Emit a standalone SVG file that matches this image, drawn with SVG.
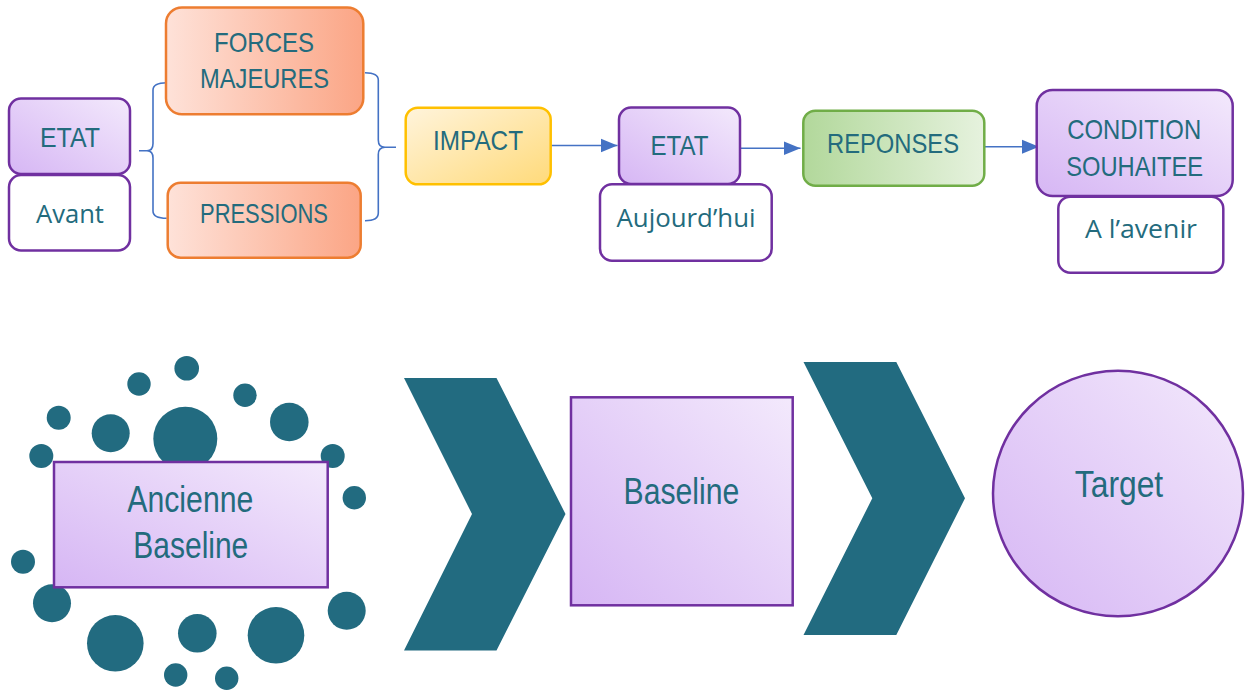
<svg xmlns="http://www.w3.org/2000/svg" width="1247" height="691" viewBox="0 0 1247 691">
<defs>
<linearGradient id="gPurple" x1="0" y1="1" x2="1" y2="0">
<stop offset="0" stop-color="#D6B6F4"/><stop offset="1" stop-color="#F3E9FC"/>
</linearGradient>
<linearGradient id="gOrange" x1="0" y1="0" x2="1" y2="0">
<stop offset="0" stop-color="#FEE2D9"/><stop offset="1" stop-color="#FBA585"/>
</linearGradient>
<linearGradient id="gYellow" x1="0" y1="0" x2="1" y2="1">
<stop offset="0" stop-color="#FFF4DC"/><stop offset="1" stop-color="#FFDA7A"/>
</linearGradient>
<linearGradient id="gGreen" x1="0" y1="0" x2="1" y2="0">
<stop offset="0" stop-color="#B2D89B"/><stop offset="1" stop-color="#E6F2DE"/>
</linearGradient>
<marker id="arr" markerUnits="userSpaceOnUse" markerWidth="18" markerHeight="16" refX="17" refY="8" orient="auto">
<path d="M0,1 L17,8 L0,15 Z" fill="#4472C4"/>
</marker>
<style>
.t{font-family:"Liberation Sans",Arial,sans-serif;fill:#236B7D;text-anchor:middle}
.c{font-family:"Open Sans","Noto Sans",sans-serif;fill:#236B7D;text-anchor:middle}
.pu{fill:url(#gPurple);stroke:#7030A0;stroke-width:2.5}
.wh{fill:#FFFFFF;stroke:#7030A0;stroke-width:2.5}
.or{fill:url(#gOrange);stroke:#ED7D31;stroke-width:2.5}
.ye{fill:url(#gYellow);stroke:#FFC000;stroke-width:2.5}
.gr{fill:url(#gGreen);stroke:#70AD47;stroke-width:2.5}
.ln{fill:none;stroke:#4472C4;stroke-width:1.6}
.dot{fill:#226B80}
</style>
</defs>
<rect width="1247" height="691" fill="#FFFFFF"/>

<g id="connectors">
<path class="ln" d="M139,150.7 H149 M166.7,82.7 Q153,82.7 153,90 L153,143.5 Q153,150.7 147,150.7 Q153,150.7 153,158 L153,211 Q153,218.3 166.7,218.3"/>
<path class="ln" d="M365,72.7 Q378.3,72.7 378.3,80 L378.3,140 Q378.3,147.3 385,147.3 Q378.3,147.3 378.3,154.6 L378.3,213 Q378.3,220.7 365,220.7 M384,147.3 H396"/>
<line class="ln" x1="551" y1="145.5" x2="617.5" y2="145.5" marker-end="url(#arr)"/>
<line class="ln" x1="740.5" y1="148.3" x2="800.5" y2="148.3" marker-end="url(#arr)"/>
<line class="ln" x1="985" y1="146.7" x2="1039" y2="146.7" marker-end="url(#arr)"/>
</g>

<g id="etat1">
<rect class="pu" x="9" y="98.5" width="121" height="75.5" rx="12"/>
<text class="t" x="70" y="146.7" font-size="28" textLength="60" lengthAdjust="spacingAndGlyphs">ETAT</text>
</g>
<g id="avant">
<rect class="wh" x="9" y="175" width="121" height="75.5" rx="12"/>
<text class="c" x="70" y="222.7" font-size="25" textLength="68" lengthAdjust="spacingAndGlyphs">Avant</text>
</g>
<g id="forces">
<rect class="or" x="166" y="7.5" width="197.3" height="106.8" rx="16"/>
<text class="t" x="264" y="51.7" font-size="28" textLength="100" lengthAdjust="spacingAndGlyphs">FORCES</text>
<text class="t" x="264.5" y="87.7" font-size="28" textLength="129" lengthAdjust="spacingAndGlyphs">MAJEURES</text>
</g>
<g id="pressions">
<rect class="or" x="167.7" y="182.7" width="193" height="75" rx="13"/>
<text class="t" x="264" y="223.3" font-size="28" textLength="128" lengthAdjust="spacingAndGlyphs">PRESSIONS</text>
</g>
<g id="impact">
<rect class="ye" x="405.7" y="107.7" width="145" height="76.6" rx="12"/>
<text class="t" x="478" y="150" font-size="28" textLength="90" lengthAdjust="spacingAndGlyphs">IMPACT</text>
</g>
<g id="etat2">
<rect class="pu" x="619" y="107.5" width="121" height="76.5" rx="12"/>
<text class="t" x="679.5" y="155" font-size="28" textLength="58" lengthAdjust="spacingAndGlyphs">ETAT</text>
</g>
<g id="aujourdhui">
<rect class="wh" x="600" y="184.3" width="171.7" height="76.4" rx="12"/>
<text class="c" x="686" y="226.7" font-size="25" textLength="139" lengthAdjust="spacingAndGlyphs">Aujourd’hui</text>
</g>
<g id="reponses">
<rect class="gr" x="803.3" y="110.7" width="181" height="75" rx="12"/>
<text class="t" x="893" y="152.7" font-size="28" textLength="132" lengthAdjust="spacingAndGlyphs">REPONSES</text>
</g>
<g id="condition">
<rect class="pu" x="1036.7" y="90" width="196" height="106" rx="16"/>
<text class="t" x="1134.2" y="139.3" font-size="28" textLength="134" lengthAdjust="spacingAndGlyphs">CONDITION</text>
<text class="t" x="1134.7" y="175.7" font-size="28" textLength="137" lengthAdjust="spacingAndGlyphs">SOUHAITEE</text>
</g>
<g id="avenir">
<rect class="wh" x="1058.3" y="196.7" width="165" height="76" rx="12"/>
<text class="c" x="1141" y="238.3" font-size="25" textLength="112" lengthAdjust="spacingAndGlyphs">A l’avenir</text>
</g>

<g id="dots">
<circle class="dot" cx="186.7" cy="368.3" r="12.3"/>
<circle class="dot" cx="139" cy="384" r="11.7"/>
<circle class="dot" cx="245" cy="395.3" r="11.7"/>
<circle class="dot" cx="58.7" cy="417.7" r="12"/>
<circle class="dot" cx="110.7" cy="433.3" r="19"/>
<circle class="dot" cx="185.3" cy="438.7" r="32"/>
<circle class="dot" cx="289.3" cy="422" r="19.3"/>
<circle class="dot" cx="41.3" cy="456" r="12"/>
<circle class="dot" cx="332.7" cy="456" r="12"/>
<circle class="dot" cx="354.3" cy="497.7" r="11.7"/>
<circle class="dot" cx="23" cy="561.7" r="12"/>
<circle class="dot" cx="52" cy="603.3" r="19"/>
<circle class="dot" cx="115.3" cy="643.3" r="28.3"/>
<circle class="dot" cx="197.3" cy="633.3" r="19.3"/>
<circle class="dot" cx="276" cy="635.3" r="28.3"/>
<circle class="dot" cx="346.7" cy="610.7" r="19"/>
<circle class="dot" cx="175.7" cy="675" r="11.7"/>
<circle class="dot" cx="226.7" cy="678.3" r="11.7"/>
</g>
<g id="ancienne">
<rect class="pu" x="54" y="462" width="273.7" height="125.3"/>
<text class="t" x="190.3" y="512" font-size="36" textLength="126" lengthAdjust="spacingAndGlyphs">Ancienne</text>
<text class="t" x="190.8" y="558" font-size="36" textLength="115" lengthAdjust="spacingAndGlyphs">Baseline</text>
</g>
<g id="chevron1">
<polygon class="dot" points="404,378 496.5,378 565.5,514 496.5,650.5 404,650.5 472,514"/>
</g>
<g id="baseline">
<rect class="pu" x="571" y="397.3" width="221.7" height="208"/>
<text class="t" x="681.4" y="504.3" font-size="36" textLength="115.7" lengthAdjust="spacingAndGlyphs">Baseline</text>
</g>
<g id="chevron2">
<polygon class="dot" points="803.5,362 896.3,362 965,498.3 896.3,635 803.5,635 872.3,498.3"/>
</g>
<g id="target">
<ellipse class="pu" cx="1118" cy="493.5" rx="125" ry="122.7"/>
<text class="t" x="1119" y="496.7" font-size="36" textLength="88.4" lengthAdjust="spacingAndGlyphs">Target</text>
</g>
</svg>
